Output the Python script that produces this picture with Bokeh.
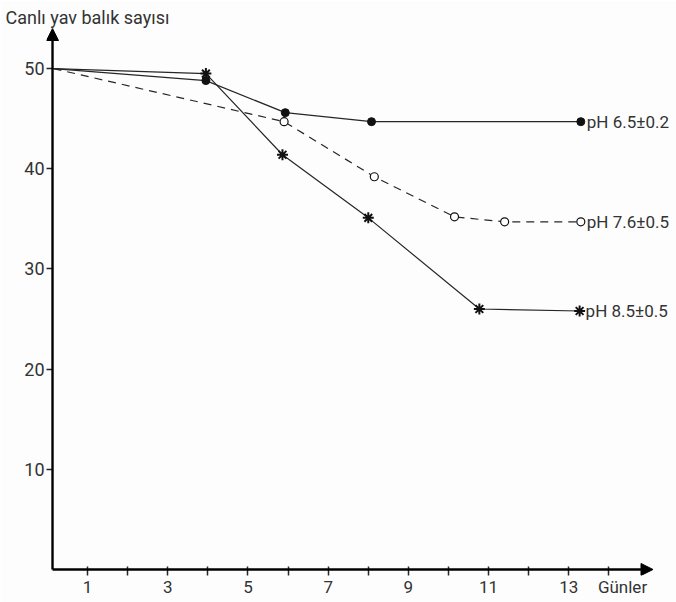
from bokeh.plotting import figure
from bokeh.models import Arrow, NormalHead, FixedTicker, Range1d
from bokeh.core.properties import value
from bokeh.embed import file_html
from bokeh.resources import INLINE

# ---- data ----
days_65 = [0.15, 3.95, 5.93, 8.08, 13.3]
vals_65 = [50, 48.8, 45.6, 44.7, 44.7]

days_76 = [0.15, 5.9, 8.15, 10.15, 11.4, 13.3]
vals_76 = [50, 44.7, 39.2, 35.2, 34.7, 34.7]

days_85 = [0.15, 3.95, 5.86, 8.0, 10.77, 13.27]
vals_85 = [50, 49.5, 41.4, 35.1, 26.0, 25.8]

series_labels = ["pH 6.5±0.2", "pH 7.6±0.5", "pH 8.5±0.5"]
x_labelled_days = [1, 3, 5, 7, 9, 11, 13]
x_tick_days = list(range(1, 15))
x_title_pos = 14.34
y_ticks = [10, 20, 30, 40, 50]
y_title = "Canlı yav balık sayısı"
x_title = "Günler"

FONT = "Roboto"
INK = "#262626"
TXT = "#333333"
AXIS_X = 0.125   # where the drawn vertical axis line sits (in days)
AXIS_Y = 0       # where the drawn horizontal axis line sits

p = figure(width=676, height=602, output_backend="svg", toolbar_location=None,
           x_range=Range1d(-0.025, 15.686), y_range=Range1d(-0.6, 54),
           min_border_left=46, min_border_right=0, min_border_top=28,
           min_border_bottom=27)
p.outline_line_color = None
p.grid.visible = False
p.background_fill_color = "#fdfdfd"
p.border_fill_color = "#fdfdfd"

# title used as the y-axis caption (top-left)
p.title.text = y_title
p.title.align = "left"
p.title.offset = -41
p.title.standoff = 2
p.title.text_font = FONT
p.title.text_font_style = "normal"
p.title.text_font_size = "18px"
p.title.text_color = TXT

# x axis: tick marks at every day via minor ticks, labels on odd days + "Günler"
p.xaxis.ticker = FixedTicker(ticks=x_labelled_days + [x_title_pos], minor_ticks=x_tick_days)
p.xaxis.major_label_overrides = {x_title_pos: x_title}
p.xaxis.axis_line_color = None
p.xaxis.major_tick_line_color = None
p.xaxis.major_tick_in = 0
p.xaxis.major_tick_out = 0
p.xaxis.minor_tick_in = 9
p.xaxis.minor_tick_out = 0
p.xaxis.minor_tick_line_color = INK
p.xaxis.minor_tick_line_width = 1.5
p.xaxis.major_label_standoff = 1
p.xaxis.major_label_text_font = FONT
p.xaxis.major_label_text_font_size = "17px"
p.xaxis.major_label_text_color = TXT

p.yaxis.ticker = FixedTicker(ticks=y_ticks)
p.yaxis.axis_line_color = None
p.yaxis.major_tick_in = 6
p.yaxis.major_tick_out = 0
p.yaxis.minor_tick_line_color = None
p.yaxis.major_tick_line_color = INK
p.yaxis.major_tick_line_width = 1.5
p.yaxis.major_label_standoff = 2
p.yaxis.major_label_text_font = FONT
p.yaxis.major_label_text_font_size = "18px"
p.yaxis.major_label_text_color = TXT

# axis lines with arrow heads
p.add_layout(Arrow(end=NormalHead(size=12, fill_color="black", line_color="black"),
                   x_start=AXIS_X, y_start=AXIS_Y, x_end=AXIS_X, y_end=54,
                   line_width=2.4, line_color="black"))
p.add_layout(Arrow(end=NormalHead(size=12, fill_color="black", line_color="black"),
                   x_start=AXIS_X, y_start=AXIS_Y, x_end=15.1, y_end=AXIS_Y,
                   line_width=2.4, line_color="black"))

# series
p.line(days_65, vals_65, line_color=INK, line_width=1.2)
p.scatter(days_65[1:], vals_65[1:], marker="circle", size=8, fill_color="#111111", line_color="#111111")

p.line(days_76, vals_76, line_color=INK, line_width=1.2, line_dash="8 6")
p.scatter(days_76[1:], vals_76[1:], marker="circle", size=8, fill_color="white", line_color="#111111", line_width=1.2)

p.line(days_85, vals_85, line_color=INK, line_width=1.2)
p.scatter(days_85[1:], vals_85[1:], marker="asterisk", size=11, line_color="#111111", line_width=2)

# end labels
p.text(x=[days_65[-1], days_76[-1], days_85[-1]],
       y=[vals_65[-1], vals_76[-1], vals_85[-1]],
       text=series_labels, x_offset=6, text_baseline="middle",
       text_font=value(FONT), text_font_size="17px", text_color=TXT)

open("out.html", "w").write(file_html(p, INLINE))
